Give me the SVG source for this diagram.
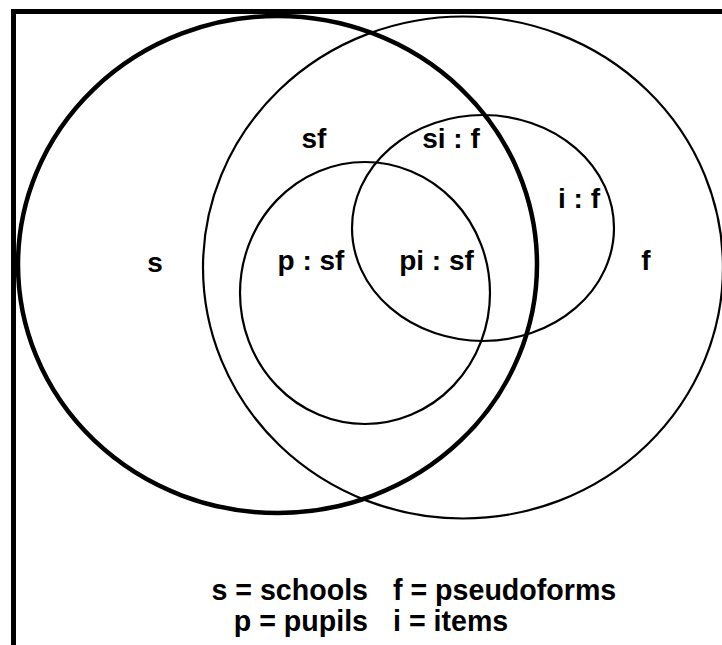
<svg xmlns="http://www.w3.org/2000/svg" width="722" height="645" viewBox="0 0 722 645">
<style>
.set{fill:none;stroke:#000;stroke-width:2.2}
.thick{stroke-width:4.5}
.lbl{font-family:"Liberation Sans",Arial,Helvetica,sans-serif;font-weight:bold;font-size:28px;fill:#000}
.leg{font-size:28.6px}
</style>
<rect width="722" height="645" fill="#fff"/>
<g id="frame">
<path d="M13.5 645 V11.5 H722" fill="none" stroke="#000" stroke-width="5"/>
</g>
<g id="set-f"><ellipse class="set" cx="463" cy="267.5" rx="260" ry="251"/></g>
<g id="set-p"><ellipse class="set" cx="365" cy="293" rx="125" ry="131"/></g>
<g id="set-i"><ellipse class="set" cx="483" cy="228" rx="131" ry="113"/></g>
<g id="set-s"><ellipse class="set thick" cx="277.5" cy="264.5" rx="259.5" ry="248.5"/></g>
<g id="connectors"></g>
<g id="labels" class="lbl" text-anchor="middle">
<text x="155" y="272">s</text>
<text x="314" y="148">sf</text>
<text x="451" y="148">si : f</text>
<text x="311" y="270">p : sf</text>
<text x="436.5" y="270">pi : sf</text>
<text x="579" y="208">i : f</text>
<text x="646" y="270">f</text>
</g>
<g id="legend" class="lbl leg">
<text x="368" y="600" text-anchor="end">s = schools</text>
<text x="368" y="631" text-anchor="end">p = pupils</text>
<text x="393" y="600">f = pseudoforms</text>
<text x="393" y="631">i = items</text>
</g>
</svg>
